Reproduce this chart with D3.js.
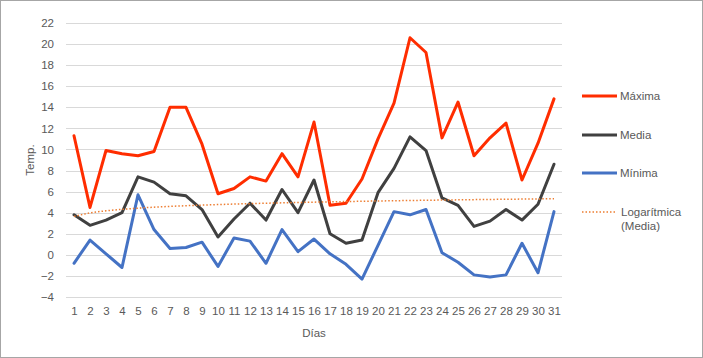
<!DOCTYPE html>
<html><head><meta charset="utf-8">
<script src="https://cdn.jsdelivr.net/npm/d3@7"></script>
<style>html,body{margin:0;padding:0;background:#fff;}svg{display:block;}</style>
</head><body>
<svg id="c" width="703" height="358"></svg>
<script>
const days = d3.range(1, 32);
const maxima = [11.3,4.5,9.9,9.6,9.4,9.8,14.0,14.0,10.5,5.8,6.3,7.4,7.0,9.6,7.4,12.6,4.7,4.9,7.2,11.0,14.4,20.6,19.2,11.1,14.5,9.4,11.1,12.5,7.1,10.6,14.8];
const media = [3.8,2.8,3.3,4.0,7.4,6.9,5.8,5.6,4.3,1.7,3.4,4.9,3.3,6.2,4.0,7.1,2.0,1.1,1.4,5.9,8.2,11.2,9.9,5.4,4.7,2.7,3.2,4.3,3.3,4.8,8.6];
const minima = [-0.8,1.4,0.1,-1.2,5.7,2.4,0.6,0.7,1.2,-1.1,1.6,1.3,-0.8,2.4,0.3,1.5,0.1,-0.9,-2.3,0.9,4.1,3.8,4.3,0.2,-0.7,-1.9,-2.1,-1.9,1.1,-1.7,4.1];
const yTicks = [-4,-2,0,2,4,6,8,10,12,14,16,18,20,22];
const seriesNames = ["Máxima","Media","Mínima"];
const trendName = ["Logarítmica","(Media)"];
const colors = ["#FF2D00","#404040","#4472C4"];
const trendColor = "#ED7D31";

// logarithmic trendline of Media (least squares on ln(day))
const lx = days.map(d => Math.log(d));
const mx = d3.mean(lx), my = d3.mean(media);
const slope = d3.sum(lx.map((v,i)=>(v-mx)*(media[i]-my))) / d3.sum(lx.map(v=>(v-mx)*(v-mx)));
const icpt = my - slope*mx;
const trend = days.map(d => icpt + slope*Math.log(d));

const svg = d3.select("#c");
const font = "'Liberation Sans', Arial, sans-serif";
const txt = "#595959";
svg.append("rect").attr("x",0.5).attr("y",0.5).attr("width",702).attr("height",357)
  .attr("fill","#fff").attr("stroke","#a6a6a6").attr("stroke-width",1);

const x = d3.scalePoint().domain(days).range([66,562]).padding(0.5);
const y = d3.scaleLinear().domain([-4,22]).range([297,23]);

// grid
svg.append("g").selectAll("line").data(yTicks).join("line")
  .attr("x1",66).attr("x2",562)
  .attr("y1",d=>Math.round(y(d))+0.5).attr("y2",d=>Math.round(y(d))+0.5)
  .attr("stroke","#d9d9d9").attr("stroke-width",1);

// y axis labels
const ya = svg.append("g").attr("transform","translate(58,0)")
  .call(d3.axisLeft(y).tickValues(yTicks).tickSize(0).tickPadding(4));
ya.select(".domain").remove();
ya.selectAll("text").attr("fill",txt).style("font-family",font).style("font-size","11.5px");

// x axis labels
const xa = svg.append("g").attr("transform","translate(0,305)")
  .call(d3.axisBottom(x).tickSize(0).tickPadding(2));
xa.select(".domain").remove();
xa.selectAll("text").attr("fill",txt).style("font-family",font).style("font-size","11.5px");

// axis titles
svg.append("text").attr("transform","translate(34,160) rotate(-90)").attr("text-anchor","middle")
  .attr("fill",txt).style("font-family",font).style("font-size","11.5px").text("Temp.");
svg.append("text").attr("x",314).attr("y",337).attr("text-anchor","middle")
  .attr("fill",txt).style("font-family",font).style("font-size","11.5px").text("Días");

const line = d3.line().x((d,i)=>x(days[i])).y(d=>y(d));
[maxima, media, minima].forEach((s,k)=>{
  svg.append("path").datum(s).attr("d",line).attr("fill","none")
    .attr("stroke",colors[k]).attr("stroke-width",3).attr("stroke-linejoin","round").attr("stroke-linecap","round");
});
svg.append("path").datum(trend).attr("d",line).attr("fill","none")
  .attr("stroke",trendColor).attr("stroke-width",1.5).attr("stroke-dasharray","1.5,2");

// legend
const legY = [96,135,173];
seriesNames.forEach((n,k)=>{
  svg.append("line").attr("x1",582).attr("x2",617).attr("y1",legY[k]).attr("y2",legY[k])
    .attr("stroke",colors[k]).attr("stroke-width",3);
  svg.append("text").attr("x",620).attr("y",legY[k]+4).attr("fill",txt)
    .style("font-family",font).style("font-size","11.5px").text(n);
});
svg.append("line").attr("x1",582).attr("x2",615).attr("y1",212).attr("y2",212)
  .attr("stroke",trendColor).attr("stroke-width",1.5).attr("stroke-dasharray","1.5,2");
trendName.forEach((t,i)=>{
  svg.append("text").attr("x",621).attr("y",216+i*13.5).attr("fill",txt)
    .style("font-family",font).style("font-size","11.5px").text(t);
});
</script>
</body></html>
